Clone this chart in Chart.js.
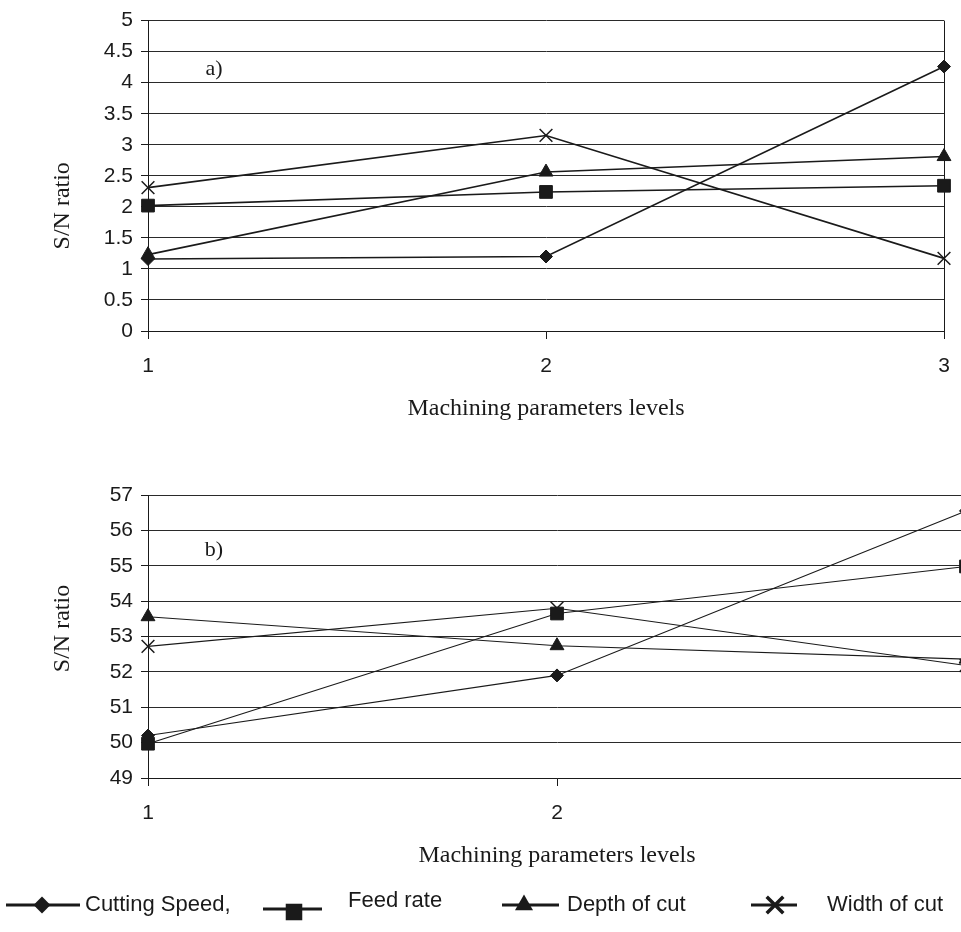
<!DOCTYPE html>
<html>
<head>
<meta charset="utf-8">
<script src="https://cdn.jsdelivr.net/npm/chart.js@4.4.1/dist/chart.umd.min.js"></script>
<style>
  html, body { margin: 0; padding: 0; background: #fff; overflow: hidden; width: 961px; height: 932px; }
  #chartA { position: absolute; left: 0; top: 0; }
  #chartB { position: absolute; left: 0; top: 440px; }
</style>
</head>
<body>
<canvas id="chartA" width="961" height="440"></canvas>
<canvas id="chartB" width="990" height="492"></canvas>
<script>
var levels = ['1', '2', '3'];
var seriesNames = ['Cutting Speed,', 'Feed rate', 'Depth of cut', 'Width of cut'];

// a) S/N ratio
var speedA = [1.16, 1.20, 4.26];
var feedA  = [2.02, 2.24, 2.34];
var depthA = [1.23, 2.56, 2.81];
var widthA = [2.31, 3.15, 1.17];
var yTicksA = [0, 5, 0.5];   // min, max, step

// b) S/N ratio
var speedB = [50.20, 51.90, 56.55];
var feedB  = [49.97, 53.65, 54.98];
var depthB = [53.56, 52.74, 52.36];
var widthB = [52.72, 53.80, 52.18];
var yTicksB = [49, 57, 1];

var ink = '#1a1a1a';
var markers = [
  { style: 'rectRot', radius: 6.5 },
  { style: 'rect', radius: 9 },
  { style: 'triangle', radius: 8 },
  { style: 'crossRot', radius: 9 }
];

function makeSets(values, lineWidth) {
  return values.map(function (v, i) {
    return {
      label: seriesNames[i],
      data: v,
      borderColor: ink,
      borderWidth: lineWidth,
      backgroundColor: ink,
      pointStyle: markers[i].style,
      pointRadius: markers[i].radius,
      pointBackgroundColor: ink,
      pointBorderColor: ink,
      pointBorderWidth: i === 3 ? 1.5 : 1,
      tension: 0,
      clip: false
    };
  });
}

function drawMarker(ctx, style, x, y, r) {
  ctx.beginPath();
  if (style === 'rectRot') {
    ctx.moveTo(x - r, y); ctx.lineTo(x, y - r); ctx.lineTo(x + r, y); ctx.lineTo(x, y + r);
    ctx.closePath(); ctx.fill();
  } else if (style === 'rect') {
    var s = r * Math.SQRT1_2;
    ctx.rect(x - s, y - s, 2 * s, 2 * s); ctx.fill();
  } else if (style === 'triangle') {
    ctx.moveTo(x, y - r); ctx.lineTo(x + r * 0.866, y + r / 2); ctx.lineTo(x - r * 0.866, y + r / 2);
    ctx.closePath(); ctx.fill();
  } else {
    var d = r * Math.SQRT1_2;
    ctx.moveTo(x - d, y - d); ctx.lineTo(x + d, y + d);
    ctx.moveTo(x - d, y + d); ctx.lineTo(x + d, y - d);
    ctx.stroke();
  }
}

// panel letter + rotated y title
var panelText = {
  id: 'panelText',
  afterDraw: function (chart, args, opts) {
    var ctx = chart.ctx, a = chart.chartArea;
    ctx.save();
    ctx.fillStyle = ink;
    ctx.font = '22px "Liberation Serif", "Times New Roman", serif';
    ctx.textAlign = 'center';
    ctx.textBaseline = 'middle';
    ctx.fillText(opts.label, a.left + opts.labelDx, a.top + opts.labelDy);
    ctx.font = '24px "Liberation Serif", "Times New Roman", serif';
    ctx.translate(63, (a.top + a.bottom) / 2 + opts.titleShift);
    ctx.rotate(-Math.PI / 2);
    ctx.fillText('S/N ratio', 0, 0);
    ctx.restore();
  }
};

// legend row under the second chart
var lineLegend = {
  id: 'lineLegend',
  afterDraw: function (chart, args, opts) {
    if (!opts.items) return;
    var ctx = chart.ctx;
    ctx.save();
    ctx.fillStyle = ink;
    ctx.strokeStyle = ink;
    ctx.font = '22px "Liberation Sans", Arial, sans-serif';
    ctx.textBaseline = 'middle';
    chart.data.datasets.forEach(function (ds, i) {
      var it = opts.items[i];
      var y = opts.y + (it.lineDy || 0);
      ctx.lineWidth = 3;
      ctx.beginPath();
      ctx.moveTo(it.x0, y); ctx.lineTo(it.x1, y); ctx.stroke();
      ctx.lineWidth = 3.5;
      drawMarker(ctx, ds.pointStyle, it.mx, y + (it.markDy || 0), ds.pointRadius * 1.3);
      ctx.fillText(ds.label, it.tx, opts.y + (it.textDy || 0));
    });
    ctx.restore();
  }
};

function makeConfig(values, yRange, lineWidth, opts) {
  return {
    type: 'line',
    data: { labels: levels, datasets: makeSets(values, lineWidth) },
    options: {
      responsive: false,
      animation: false,
      devicePixelRatio: 1,
      layout: { padding: { top: opts.top, right: opts.right, left: 0, bottom: 0 } },
      scales: {
        x: {
          type: 'category',
          offset: false,
          afterFit: function (s) { s.height = opts.xHeight; s.paddingRight = 0; s.paddingLeft = 0; },
          grid: {
            color: function (c) { return c.index === 2 ? ink : 'rgba(0,0,0,0)'; },
            tickColor: ink,
            tickLength: 8,
            lineWidth: 1
          },
          border: { display: true, color: ink, width: 1 },
          ticks: {
            color: ink,
            padding: 15,
            maxRotation: 0,
            font: { family: '"Liberation Sans", Arial, sans-serif', size: 21 }
          },
          title: {
            display: true,
            text: 'Machining parameters levels',
            color: ink,
            font: { family: '"Liberation Serif", "Times New Roman", serif', size: 24 },
            padding: { top: 0, bottom: opts.titleBottom }
          }
        },
        y: {
          min: yRange[0],
          max: yRange[1],
          afterFit: function (s) { s.width = 148; },
          grid: { color: '#2a2a2a', lineWidth: 1, tickLength: 7, tickColor: ink },
          border: { display: true, color: ink, width: 1 },
          ticks: {
            stepSize: yRange[2],
            color: ink,
            padding: 8,
            font: { family: '"Liberation Sans", Arial, sans-serif', size: 21 },
            callback: function (v) { return String(Math.round(v * 10) / 10); }
          }
        }
      },
      plugins: {
        legend: { display: false },
        tooltip: { enabled: false },
        panelText: { label: opts.label, labelDx: 66, labelDy: opts.labelDy, titleShift: opts.titleShift },
        lineLegend: opts.legend || {}
      }
    },
    plugins: [panelText, lineLegend]
  };
}

var chartA = new Chart(document.getElementById('chartA').getContext('2d'),
  makeConfig([speedA, feedA, depthA, widthA], yTicksA, 1.6,
    { top: 15, right: 17, xHeight: 109, titleBottom: 17, label: 'a)', labelDy: 49, titleShift: 30 }));

var chartB = new Chart(document.getElementById('chartB').getContext('2d'),
  makeConfig([speedB, feedB, depthB, widthB], yTicksB, 1.1,
    { top: 55, right: 24, xHeight: 154, titleBottom: 62, label: 'b)', labelDy: 55, titleShift: -8,
      legend: {
        y: 465,
        items: [
          { x0: 6, x1: 80, mx: 42, tx: 85 },
          { x0: 263, x1: 322, mx: 294, tx: 348, lineDy: 4, markDy: 3, textDy: -4 },
          { x0: 502, x1: 559, mx: 524, tx: 567 },
          { x0: 751, x1: 797, mx: 775, tx: 827 }
        ]
      } }));
</script>
</body>
</html>
